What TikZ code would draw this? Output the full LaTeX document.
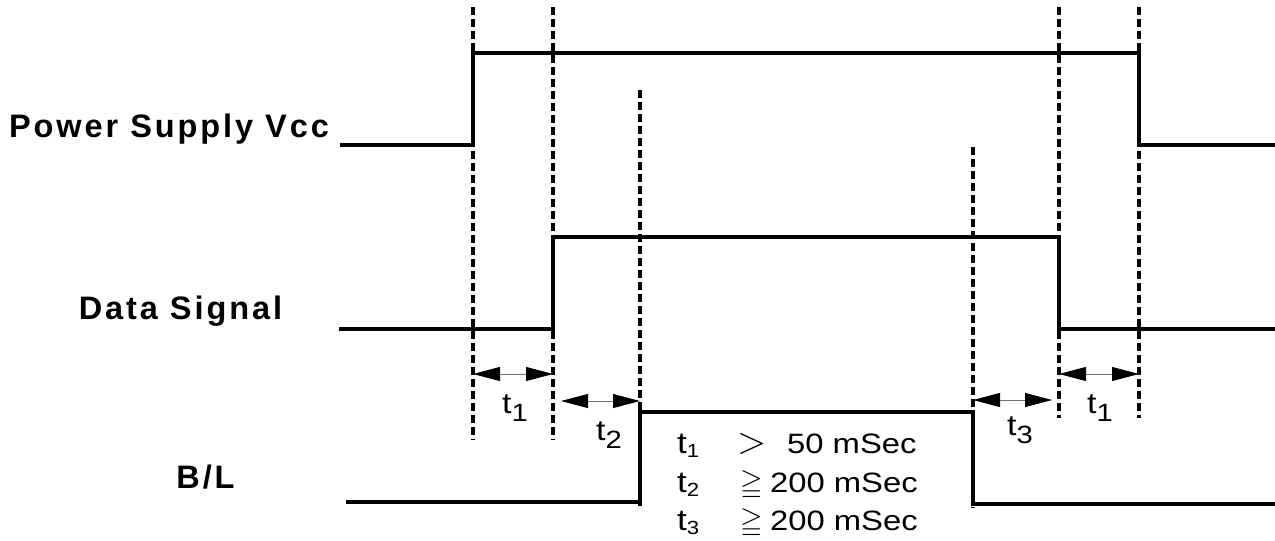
\documentclass[tikz,border=0pt]{standalone}
\usepackage{amssymb}
\usepackage{fontspec}
\setmainfont{Liberation Sans}
\newfontfamily\lblfont[LetterSpace=9]{Liberation Sans}
\newfontfamily\widefont[FakeStretch=1.17]{Liberation Sans}
\usetikzlibrary{arrows.meta}
\tikzset{
  sig/.style={line width=3.2pt, line join=miter},
  edgeln/.style={line width=4pt},
  guide/.style={line width=3.2pt, dash pattern=on 8pt off 4pt},
  span/.style={line width=1pt, draw=black!55,
    {Triangle[length=27pt,width=14pt,color=black]}-{Triangle[length=27pt,width=14pt,color=black]}},
  lbl/.style={anchor=base, inner sep=0pt, font=\lblfont\bfseries\fontsize{32.5}{36}\selectfont},
  tlab/.style={anchor=base west, inner sep=0pt, font=\widefont\fontsize{29}{30}\selectfont},
  row/.style={anchor=base west, inner sep=0pt, font=\widefont\fontsize{28}{30}\selectfont},
  rsym/.style={anchor=base west, inner sep=0pt, font=\fontsize{29}{30}\selectfont}
}
\newcommand{\tsub}[1]{t\raisebox{-8pt}{\fontsize{25}{25}\selectfont #1}}
\newcommand{\trow}[1]{{\fontsize{30}{30}\selectfont t}\raisebox{-4pt}{\fontsize{19}{19}\selectfont #1}}
\begin{document}
\begin{tikzpicture}[x=1pt,y=-1pt]
\useasboundingbox (0,0) rectangle (1275,541);
% guide coordinates
\coordinate (g1t) at (473,7);   \coordinate (g1b) at (473,440);
\coordinate (g2t) at (553,7);   \coordinate (g2b) at (553,440);
\coordinate (g3t) at (640,90);  \coordinate (g3b) at (640,508);
\coordinate (g4t) at (973,147); \coordinate (g4b) at (973,508);
\coordinate (g5t) at (1059,7);  \coordinate (g5b) at (1059,418);
\coordinate (g6t) at (1139,7);  \coordinate (g6b) at (1139,418);
\foreach \i in {1,...,6} \draw[guide] (g\i t) -- (g\i b);

% Power supply waveform
\coordinate (p0) at (340,145); \coordinate (p1) at (473,145);
\coordinate (p2) at (473,53);  \coordinate (p3) at (1139,53);
\coordinate (p4) at (1139,145); \coordinate (p5) at (1275,145);
\draw[sig] (p0) -- (p1) -- (p2) -- (p3) -- (p4) -- (p5);
\draw[edgeln] (p1) -- (p2) (p3) -- (p4);

% Data signal waveform
\coordinate (d0) at (339,329); \coordinate (d1) at (553,329);
\coordinate (d2) at (553,237); \coordinate (d3) at (1059,237);
\coordinate (d4) at (1059,329); \coordinate (d5) at (1275,329);
\draw[sig] (d0) -- (d1) -- (d2) -- (d3) -- (d4) -- (d5);
\draw[edgeln] (d1) -- (d2) (d3) -- (d4);

% B/L waveform
\coordinate (b0) at (346,502); \coordinate (b1) at (640,502);
\coordinate (b2) at (640,412); \coordinate (b3) at (973,412);
\coordinate (b4) at (973,504); \coordinate (b5) at (1275,504);
\draw[sig] (b0) -- (b1) -- (b2) -- (b3) -- (b4) -- (b5);
\draw[edgeln] (b1) -- (b2) (b3) -- (b4);

% span arrows
\coordinate (a1l) at (473,374); \coordinate (a1r) at (553,374);
\coordinate (a2l) at (561,401); \coordinate (a2r) at (640,401);
\coordinate (a3l) at (973,400); \coordinate (a3r) at (1052,400);
\coordinate (a4l) at (1059,374); \coordinate (a4r) at (1139,374);
\draw[span] (a1l) -- (a1r);
\draw[span] (a2l) -- (a2r);
\draw[span] (a3l) -- (a3r);
\draw[span] (a4l) -- (a4r);

% span labels
\node[tlab] (lt1a) at (502,413) {\tsub{1}};
\node[tlab] (lt2) at (596,440) {\tsub{2}};
\node[tlab] (lt3) at (1007,435) {\tsub{3}};
\node[tlab] (lt1b) at (1087,413) {\tsub{1}};

% signal names
\node[lbl] (npwr) at (169,137) {Power Supply Vcc};
\node[lbl] (ndat) at (180.5,319) {Data Signal};
\node[lbl] (nbl) at (205.5,488) {B/L};

% condition rows
\node[row] (r1t) at (677,453) {\trow{1}};
\node[rsym] (r1s) at (737,453) {\resizebox{29pt}{!}{$>$}};
\node[row] (r1v) at (787,453) {50 mSec};
\node[row] (r2t) at (677,492) {\trow{2}};
\node[rsym] (r2s) at (740,492) {$\geqq$};
\node[row] (r2v) at (770,492) {200 mSec};
\node[row] (r3t) at (677,530) {\trow{3}};
\node[rsym] (r3s) at (740,530) {$\geqq$};
\node[row] (r3v) at (770,530) {200 mSec};
\end{tikzpicture}
\end{document}
